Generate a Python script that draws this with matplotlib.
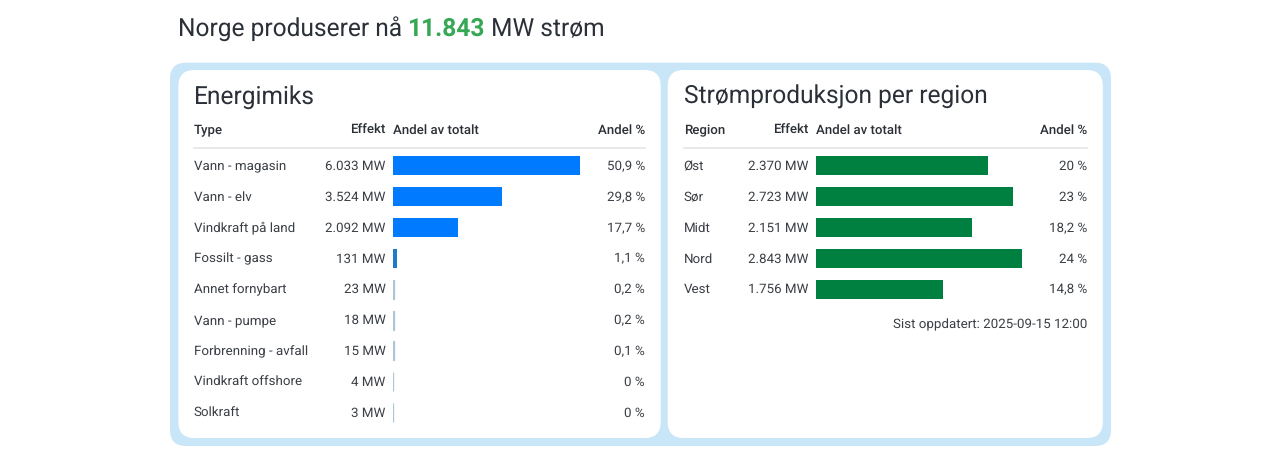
import matplotlib
matplotlib.use("Agg")
import matplotlib.pyplot as plt
from matplotlib.patches import FancyBboxPatch

plt.rcParams['font.family'] = ['Roboto', 'DejaVu Sans']
plt.rcParams['text.hinting'] = 'no_hinting'

types = ["Vann - magasin", "Vann - elv", "Vindkraft på land", "Fossilt - gass", "Annet fornybart",
         "Vann - pumpe", "Forbrenning - avfall", "Vindkraft offshore", "Solkraft"]
type_mw = [6033, 3524, 2092, 131, 23, 18, 15, 4, 3]
type_pct = ["50,9 %", "29,8 %", "17,7 %", "1,1 %", "0,2 %", "0,2 %", "0,1 %", "0 %", "0 %"]
regions = ["Øst", "Sør", "Midt", "Nord", "Vest"]
region_mw = [2370, 2723, 2151, 2843, 1756]
region_pct = ["20 %", "23 %", "18,2 %", "24 %", "14,8 %"]

W, H = 1280, 459
TXT = "#3a3f45"
HEAD = "#2b3036"
TITLE = "#2b3038"
fig = plt.figure(figsize=(W / 100, H / 100), dpi=100, facecolor="white")
bg = fig.add_axes([0, 0, 1, 1])
bg.set_xlim(0, W)
bg.set_ylim(H, 0)
bg.axis("off")


def panel(x0, y0, x1, y1, r, color):
    bg.add_patch(FancyBboxPatch((x0 + r, y0 + r), x1 - x0 - 2 * r, y1 - y0 - 2 * r,
                                boxstyle=f"round,pad={r},rounding_size={r}",
                                fc=color, ec="none", zorder=1))


panel(170, 62.7, 1111, 446, 16, "#c8e6f8")
panel(178.4, 70, 660.7, 438, 16, "white")
panel(667.7, 70, 1102.8, 438, 16, "white")


def fmt(v):
    return f"{v:,}".replace(",", ".") + " MW"


# Headline in three coloured runs
renderer = fig.canvas.get_renderer()
x = 177.6
for s, c, w in [("Norge produserer nå ", TITLE, "normal"),
                ("11.843", "#34a853", "bold"),
                (" MW strøm", TITLE, "normal")]:
    t = bg.text(x, 36, s.replace(" ", "\u00a0"), fontsize=17.68, color=c, fontweight=w,
                va="baseline", ha="left", zorder=3)
    x = bg.transData.inverted().transform(t.get_window_extent(renderer))[1][0]


def table(names, vals, pcts, title, head, left, eff_r, bar_l, bar_r, right, color, tiny, small):
    bg.text(left, 103.3, title, fontsize=17.68, color=TITLE, va="baseline", ha="left", zorder=3)
    for s, xp, ha in [(head, left, "left"), ("Effekt", eff_r, "right"),
                      ("Andel av totalt", bar_l, "left"), ("Andel %", right, "right")]:
        bg.text(xp, 134.3, s, fontsize=9.5, fontweight="medium", color=HEAD, va="baseline", ha=ha, zorder=3)
    bg.plot([left, right], [148.4, 148.4], color="#e3e5e8", lw=1.2, zorder=2)
    top, bottom = 150, 428
    ax = fig.add_axes([bar_l / W, 1 - bottom / H, (bar_r - bar_l) / W, (bottom - top) / H])
    ax.patch.set_alpha(0)
    ax.set_xlim(0, max(vals))
    pitch = 30.8
    ax.set_ylim((bottom - 166) / pitch, (top - 166) / pitch)
    ax.axis("off")
    share = [v / max(vals) for v in vals]
    colors = [color if s > 0.05 else (small if s > 0.01 else tiny) for s in share]
    widths = [0 if s > 0.01 else 0.9 for s in share]
    ax.barh(range(len(vals)), vals, height=19 / pitch, color=colors, edgecolor=colors, linewidth=widths)
    for i, (n, v, p) in enumerate(zip(names, vals, pcts)):
        y = 170.1 + pitch * i
        bg.text(left, y, n, fontsize=9.65, color=TXT, va="baseline", ha="left", zorder=3)
        bg.text(eff_r, y, fmt(v), fontsize=9.65, color=TXT, va="baseline", ha="right", zorder=3)
        bg.text(right, y, p, fontsize=9.65, color=TXT, va="baseline", ha="right", zorder=3)


table(types, type_mw, type_pct, "Energimiks", "Type", 193.6, 385.5, 393.3, 580, 645, "#007bff", "#a9c6d2", "#1f7ac9")
table(regions, region_mw, region_pct, "Strømproduksjon per region", "Region", 683.6, 808, 815.8, 1022, 1087, "#008040", "#008040", "#008040")
bg.text(1087, 328.2, "Sist oppdatert: 2025-09-15 12:00", fontsize=9.65, color=TXT, va="baseline", ha="right", zorder=3)

fig.savefig("out.png", dpi=100, facecolor="white")
